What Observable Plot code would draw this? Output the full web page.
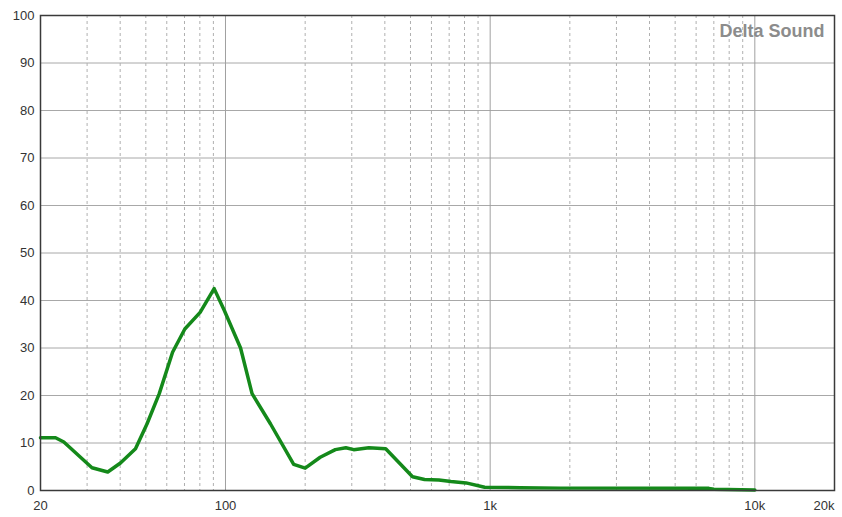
<!DOCTYPE html>
<html>
<head>
<meta charset="utf-8">
<script src="https://cdn.jsdelivr.net/npm/d3@7"></script>
<script src="https://cdn.jsdelivr.net/npm/@observablehq/plot@0.6"></script>
<style>
  html, body { margin: 0; padding: 0; background: #fff; }
  #chart svg { display: block; }
</style>
</head>
<body>
<div id="chart"></div>
<script>
const freqs = [20, 22.8, 24.5, 31.3, 35.9, 40.1, 45.7, 50.5, 56.2, 63.1, 70.2, 80.2, 90.6, 99, 114, 126, 148, 181, 200, 228, 260, 285, 305, 348, 403, 509, 565, 640, 711, 811, 953, 1300, 1840, 6700, 7000, 10000];
const values = [11.1, 11.1, 10.2, 4.8, 3.9, 5.8, 8.8, 14, 20.4, 29.1, 34, 37.5, 42.5, 37.9, 30, 20.4, 14, 5.5, 4.7, 7.0, 8.6, 9.0, 8.6, 9.0, 8.8, 2.9, 2.3, 2.2, 1.9, 1.6, 0.7, 0.6, 0.5, 0.45, 0.25, 0.1];

const yTicks = [0, 10, 20, 30, 40, 50, 60, 70, 80, 90, 100];
const xTickValues = [20, 100, 1000, 10000];
const xTickLabels = ["20", "100", "1k", "10k"];
const xEndTick = [20000];
const xEndLabel = ["20k"];
const majorGrid = [100, 1000, 10000];
const minorGrid = [30, 40, 50, 60, 70, 80, 90, 200, 300, 400, 500, 600, 700, 800, 900, 2000, 3000, 4000, 5000, 6000, 7000, 8000, 9000];
const brand = "Delta Sound";

const data = freqs.map((f, i) => ({f, v: values[i]}));

const chart = Plot.plot({
  width: 842,
  height: 517,
  marginLeft: 40,
  marginRight: 8,
  marginTop: 15,
  marginBottom: 27,
  x: {type: "log", domain: [20, 20000]},
  y: {domain: [0, 100]},
  style: {fontFamily: "'Liberation Sans', Arial, sans-serif", fontSize: "13px", color: "#333", background: "#fff"},
  marks: [
    Plot.gridY(yTicks, {stroke: "#a8a8a8", strokeOpacity: 1, strokeWidth: 1}),
    Plot.gridX(minorGrid, {stroke: "#b0b0b0", strokeOpacity: 1, strokeWidth: 1, strokeDasharray: "3,3"}),
    Plot.gridX(majorGrid, {stroke: "#a0a0a0", strokeOpacity: 1, strokeWidth: 1}),
    Plot.line(data, {x: "f", y: "v", stroke: "#14891a", strokeWidth: 3.5, strokeLinejoin: "round", strokeLinecap: "round"}),
    Plot.frame({stroke: "#3a3a3a", strokeWidth: 1.5}),
    Plot.axisY(yTicks, {tickSize: 0, tickPadding: 6, label: null, fill: "#333", fontSize: 13}),
    Plot.axisX(xTickValues, {tickSize: 0, tickPadding: 10, label: null, fill: "#333", fontSize: 13, tickFormat: (d) => xTickLabels[xTickValues.indexOf(d)]}),
    Plot.axisX(xEndTick, {tickSize: 0, tickPadding: 10, label: null, fill: "#333", fontSize: 13, textAnchor: "end", tickFormat: (d) => xEndLabel[xEndTick.indexOf(d)]}),
    Plot.text([brand], {frameAnchor: "top-right", dx: -10, dy: 9, fontWeight: "bold", fontSize: 18, fill: "#8c8c8c", lineAnchor: "top"})
  ]
});

document.getElementById("chart").appendChild(chart);
</script>
</body>
</html>
